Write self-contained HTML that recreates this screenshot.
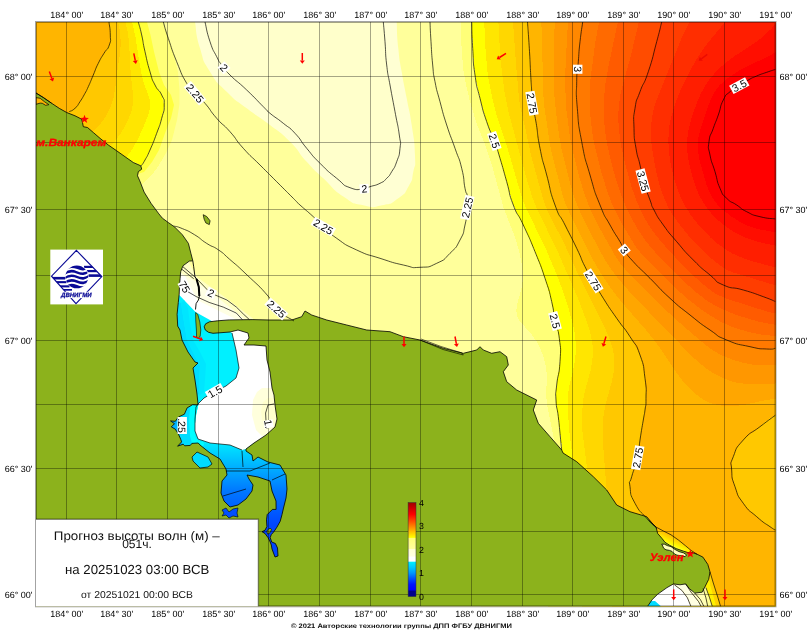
<!DOCTYPE html>
<html lang="ru"><head><meta charset="utf-8"><title>Прогноз высоты волн</title>
<style>html,body{margin:0;padding:0;background:#fff}body{width:810px;height:633px;position:relative;overflow:hidden;font-family:"Liberation Sans",sans-serif}</style></head>
<body>
<svg width="810" height="633" viewBox="0 0 810 633" style="position:absolute;left:0;top:0;will-change:transform">
<defs>
<clipPath id="fr"><rect x="36.0" y="22.0" width="739.5" height="584.3"/></clipPath>
<linearGradient id="lg" gradientUnits="userSpaceOnUse" x1="0" y1="440" x2="0" y2="525"><stop offset="0" stop-color="#00F0FF"/><stop offset="0.3" stop-color="#00B4FF"/><stop offset="0.6" stop-color="#0078FF"/><stop offset="1" stop-color="#0046FF"/></linearGradient>
<linearGradient id="uw" gradientUnits="userSpaceOnUse" x1="675" y1="536" x2="670.5" y2="545.5"><stop offset="0" stop-color="#FFB400"/><stop offset="0.35" stop-color="#FFD200"/><stop offset="0.8" stop-color="#FFFA00"/><stop offset="1" stop-color="#FFFF3C"/></linearGradient>
<linearGradient id="cb" x1="0" y1="1" x2="0" y2="0">
<stop offset="0.000" stop-color="#00008C"/>
<stop offset="0.060" stop-color="#00008C"/>
<stop offset="0.070" stop-color="#0000FF"/>
<stop offset="0.130" stop-color="#0014FF"/>
<stop offset="0.190" stop-color="#0050FF"/>
<stop offset="0.250" stop-color="#0096FF"/>
<stop offset="0.310" stop-color="#00C8FF"/>
<stop offset="0.370" stop-color="#00F0FF"/>
<stop offset="0.375" stop-color="#FFFFFF"/>
<stop offset="0.422" stop-color="#FFFFFF"/>
<stop offset="0.430" stop-color="#FFFFE1"/>
<stop offset="0.505" stop-color="#FFFFD2"/>
<stop offset="0.512" stop-color="#FFFF9B"/>
<stop offset="0.620" stop-color="#FFFF78"/>
<stop offset="0.630" stop-color="#FFFF00"/>
<stop offset="0.750" stop-color="#FF8000"/>
<stop offset="0.875" stop-color="#FF0000"/>
<stop offset="1.000" stop-color="#A00000"/>
</linearGradient>
</defs>
<rect width="810" height="633" fill="#FFFFFF"/>
<style>text{text-rendering:geometricPrecision}</style>
<g clip-path="url(#fr)">
<g shape-rendering="crispEdges">
<rect x="30" y="16" width="752" height="596" fill="#FFFF99"/>
<path fill="#FFFF9B" fill-rule="evenodd" d="M36.0,19.0L780.0,19.0L780.0,610.0L33.0,610.0L33.0,19.0Z"/>
<path fill="#FFFF78" fill-rule="evenodd" d="M36.0,19.0L143.8,19.0L151.3,49.0L157.6,70.0L161.3,79.0L169.8,94.0L173.3,103.0L174.6,109.0L175.3,118.0L174.7,127.0L173.5,133.0L171.7,139.0L168.2,148.0L163.7,157.0L158.3,166.0L154.0,172.0L148.9,178.0L141.0,185.8L126.0,198.6L102.0,218.0L57.4,253.0L33.0,273.4L33.0,19.0ZM462.0,19.0L780.0,19.0L780.0,610.0L479.4,610.0L484.5,601.0L490.4,592.0L513.0,561.8L519.0,551.9L522.0,545.8L525.0,538.9L531.0,522.8L546.0,479.5L549.0,469.1L552.0,456.5L553.5,448.0L554.1,442.0L553.9,439.0L546.8,403.0L546.2,394.0L546.8,379.0L546.6,373.0L545.9,367.0L543.9,358.0L540.6,349.0L537.0,342.0L531.0,333.6L520.4,322.0L518.4,319.0L517.2,316.0L516.6,313.0L516.4,310.0L517.1,304.0L521.4,289.0L522.8,280.0L522.8,274.0L522.4,268.0L519.5,253.0L516.1,241.0L513.0,232.0L503.6,208.0L491.3,163.0L486.3,148.0L478.0,127.0L474.9,118.0L469.6,100.0L466.0,85.0L463.4,70.0L461.6,49.0L460.6,19.0Z"/>
<path fill="#FFFF00" fill-rule="evenodd" d="M36.0,19.0L137.6,19.0L142.1,37.0L145.1,52.0L150.4,73.0L152.3,79.0L155.0,85.0L161.1,94.0L162.5,97.0L164.0,103.0L164.2,106.0L164.0,109.0L162.7,115.0L159.0,127.0L153.4,142.0L149.5,151.0L145.0,160.0L141.1,166.0L138.5,169.0L132.0,175.0L126.0,179.8L108.0,192.8L84.0,208.7L33.0,241.3L33.0,19.0ZM474.0,19.0L780.0,19.0L780.0,610.0L547.1,610.0L553.9,589.0L557.2,577.0L559.1,568.0L560.0,559.0L557.9,529.0L557.6,517.0L558.3,502.0L561.3,466.0L561.8,445.0L556.3,403.0L556.0,397.0L556.7,385.0L560.0,361.0L559.6,343.0L559.1,337.0L554.6,319.0L551.5,301.0L545.5,280.0L534.3,250.0L523.7,226.0L513.3,205.0L498.7,154.0L494.7,142.0L486.5,121.0L480.5,100.0L475.2,76.0L473.0,52.0L471.8,19.0Z"/>
<path fill="#FFE600" fill-rule="evenodd" d="M36.0,19.0L131.4,19.0L135.5,37.0L138.7,58.0L141.9,76.0L144.4,85.0L149.1,97.0L150.3,103.0L149.8,109.0L148.1,115.0L144.0,125.5L139.3,136.0L135.0,144.5L131.1,151.0L126.6,157.0L123.0,160.8L117.0,166.0L111.0,170.5L93.0,182.0L69.0,195.4L33.0,213.9L33.0,19.0ZM486.0,19.0L780.0,19.0L780.0,610.0L581.9,610.0L584.1,583.0L584.2,574.0L583.9,565.0L582.6,553.0L577.3,523.0L575.3,508.0L572.8,463.0L571.1,445.0L569.1,430.0L567.6,403.0L567.8,397.0L568.9,388.0L573.8,367.0L575.3,358.0L576.0,346.0L574.9,334.0L573.0,324.7L567.3,304.0L563.3,292.0L557.7,277.0L546.3,250.0L526.1,208.0L522.3,199.0L506.6,145.0L496.6,115.0L491.4,94.0L488.5,79.0L487.3,70.0L485.5,49.0L484.5,28.0L484.4,19.0Z"/>
<path fill="#FFD700" fill-rule="evenodd" d="M36.0,19.0L124.8,19.0L127.5,31.0L128.9,40.0L130.7,73.0L132.9,94.0L133.2,100.0L132.6,106.0L131.2,112.0L128.9,118.0L126.0,124.3L120.9,133.0L117.0,138.6L111.5,145.0L108.0,148.4L102.0,153.4L96.0,157.7L81.0,166.4L60.0,176.5L33.0,187.7L33.0,19.0ZM501.0,19.0L780.0,19.0L780.0,610.0L612.8,610.0L610.1,583.0L607.1,565.0L603.5,550.0L595.0,520.0L591.2,502.0L582.2,430.0L581.9,415.0L583.2,400.0L585.0,391.0L590.7,370.0L592.3,361.0L592.9,352.0L592.6,346.0L591.8,340.0L590.5,334.0L588.0,325.0L579.1,301.0L558.4,253.0L536.6,208.0L531.9,196.0L526.4,178.0L508.5,112.0L504.4,91.0L501.0,64.0L498.7,31.0L498.4,19.0Z"/>
<path fill="#FFC800" fill-rule="evenodd" d="M36.0,19.0L117.5,19.0L120.0,31.0L120.8,43.0L120.0,53.4L117.9,67.0L115.3,88.0L113.7,97.0L112.0,103.0L109.6,109.0L106.6,115.0L102.0,121.9L97.7,127.0L91.3,133.0L84.0,138.4L78.0,142.0L69.0,146.6L58.7,151.0L48.0,155.0L33.0,159.9L33.0,19.0ZM513.0,19.0L780.0,19.0L780.0,610.0L648.9,610.0L640.1,580.0L633.9,562.0L629.0,550.0L616.6,523.0L612.0,511.4L608.5,499.0L606.4,487.0L602.9,442.0L602.5,433.0L602.7,424.0L603.6,415.0L605.2,406.0L611.7,382.0L613.5,373.0L614.1,367.0L614.3,361.0L613.8,355.0L612.7,349.0L610.0,340.0L605.0,328.0L578.1,274.0L565.8,247.0L547.7,211.0L545.2,205.0L541.4,193.0L530.7,154.0L525.0,127.0L520.1,106.0L518.9,97.0L516.5,70.0L513.6,31.0Z"/>
<path fill="#FFB500" fill-rule="evenodd" d="M36.0,19.0L107.7,19.0L109.6,25.0L110.2,31.0L110.2,37.0L109.7,43.0L108.0,47.7L102.9,55.0L99.5,61.0L87.0,89.4L82.9,97.0L77.0,106.0L75.0,108.2L72.0,110.2L57.0,117.8L45.0,122.1L33.0,125.3L33.0,19.0ZM528.0,19.0L780.0,19.0L780.0,414.5L777.0,414.8L774.0,415.7L769.8,418.0L766.0,421.0L759.0,427.6L744.4,439.0L741.4,442.0L737.1,448.0L734.2,454.0L732.5,460.0L731.7,469.0L732.6,478.0L735.1,487.0L738.9,496.0L744.0,504.2L750.2,511.0L762.0,521.1L768.0,525.4L780.0,532.6L780.0,610.0L701.8,610.0L679.1,565.0L665.6,541.0L657.3,529.0L645.0,516.5L639.0,509.3L636.0,505.0L633.0,499.0L630.4,490.0L630.0,487.0L630.2,484.0L633.0,472.1L637.8,457.0L640.2,439.0L644.7,412.0L645.8,403.0L646.0,397.0L645.1,379.0L641.6,361.0L640.0,355.0L639.0,353.0L630.2,337.0L618.0,320.2L603.1,298.0L585.7,268.0L576.1,247.0L555.0,205.0L546.7,175.0L540.6,151.0L538.9,142.0L536.3,124.0L532.4,106.0L531.8,100.0L531.5,88.0L527.5,22.0L527.4,19.0Z"/>
<path fill="#FFA600" fill-rule="evenodd" d="M543.0,19.0L780.0,19.0L780.0,398.1L765.9,400.0L744.0,404.9L735.0,406.0L729.0,406.1L720.0,405.4L714.0,404.1L708.0,402.0L705.0,400.5L699.0,396.7L690.0,389.0L681.0,378.8L675.0,370.6L660.6,349.0L654.1,340.0L644.3,328.0L627.0,308.4L618.0,297.6L609.0,285.5L599.4,271.0L592.5,259.0L573.0,220.0L566.0,205.0L563.8,199.0L561.2,190.0L551.3,151.0L549.2,139.0L544.7,109.0L543.6,100.0L541.3,19.0Z"/>
<path fill="#FF9700" fill-rule="evenodd" d="M555.0,19.0L780.0,19.0L780.0,383.2L771.0,383.8L753.0,383.9L744.0,383.7L738.0,382.9L732.0,381.5L723.0,378.2L714.0,373.5L708.0,369.7L699.0,362.7L690.0,354.3L636.0,298.6L627.0,288.9L618.0,278.4L612.0,270.5L606.3,262.0L600.0,250.9L588.0,228.0L582.0,215.9L577.2,205.0L573.8,196.0L570.2,184.0L561.9,151.0L559.7,139.0L556.7,118.0L554.5,97.0L554.0,67.0L554.4,31.0Z"/>
<path fill="#FF8800" fill-rule="evenodd" d="M570.0,19.0L780.0,19.0L780.0,365.3L759.0,365.3L753.0,364.7L744.0,363.0L735.0,360.5L726.0,357.2L720.0,354.4L714.0,350.9L708.0,346.8L699.0,339.5L681.0,323.9L660.0,304.9L627.0,271.4L621.0,264.3L615.3,256.0L598.5,226.0L592.5,214.0L588.5,205.0L584.2,193.0L579.5,178.0L571.4,145.0L569.4,133.0L566.3,109.0L565.1,85.0L565.4,70.0L567.2,34.0L568.5,19.0Z"/>
<path fill="#FF7900" fill-rule="evenodd" d="M585.0,19.0L780.0,19.0L780.0,348.7L774.0,348.4L765.0,349.0L759.0,348.5L753.0,347.4L729.0,340.8L723.0,338.3L717.0,334.8L708.0,328.6L690.0,315.0L669.7,298.0L633.6,262.0L628.5,256.0L624.3,250.0L619.6,241.0L610.6,226.0L600.0,205.0L590.0,175.0L581.8,142.0L577.4,109.0L576.7,82.0L579.6,46.0L580.9,34.0L583.2,19.0Z"/>
<path fill="#FF6A00" fill-rule="evenodd" d="M600.0,19.0L780.0,19.0L780.0,336.4L765.0,335.1L759.0,334.2L747.0,331.5L735.0,327.9L729.0,325.7L720.0,321.3L711.0,316.0L702.0,310.0L690.0,300.8L676.3,289.0L643.5,256.0L638.3,250.0L634.0,244.0L621.5,223.0L616.8,214.0L611.2,202.0L607.9,193.0L601.2,172.0L593.9,142.0L592.4,133.0L590.6,118.0L589.9,109.0L589.6,100.0L590.5,79.0L595.2,43.0L597.9,28.0Z"/>
<path fill="#FF5B00" fill-rule="evenodd" d="M618.0,21.4L618.6,19.0L780.0,19.0L780.0,325.3L768.0,323.6L759.0,321.7L747.0,318.3L735.0,314.4L720.0,308.2L711.0,303.2L705.0,299.2L695.7,292.0L682.2,280.0L670.1,268.0L655.9,253.0L648.1,244.0L643.6,238.0L637.7,229.0L632.5,220.0L627.9,211.0L622.7,199.0L618.4,187.0L614.7,175.0L610.7,160.0L607.3,145.0L605.3,133.0L604.1,121.0L603.6,103.0L605.2,85.0L609.0,63.6Z"/>
<path fill="#FF4C00" fill-rule="evenodd" d="M639.0,21.4L639.6,19.0L780.0,19.0L780.0,314.3L768.0,311.9L726.0,298.5L717.0,294.5L711.0,290.7L701.5,283.0L688.3,271.0L668.4,250.0L658.1,238.0L651.3,229.0L645.6,220.0L642.0,213.3L637.0,202.0L631.5,187.0L624.2,160.0L621.5,148.0L620.0,139.0L618.7,127.0L618.3,118.0L618.7,106.0L620.5,94.0L622.7,85.0L630.3,58.0Z"/>
<path fill="#FF3D00" fill-rule="evenodd" d="M663.0,19.0L780.0,19.0L780.0,302.4L774.0,301.2L762.0,296.2L744.0,290.2L726.0,285.9L723.0,284.8L717.0,281.0L693.0,259.7L676.1,241.0L664.1,226.0L660.0,220.3L654.5,211.0L651.9,205.0L643.4,181.0L636.0,148.2L634.1,130.0L634.7,112.0L635.4,106.0L637.0,100.0L640.3,91.0L648.8,70.0L656.3,43.0L660.9,25.0L662.7,19.0Z"/>
<path fill="#FF2E00" fill-rule="evenodd" d="M690.0,20.4L690.7,19.0L780.0,19.0L780.0,286.8L732.0,272.1L729.0,270.9L723.0,267.6L714.0,260.8L705.0,253.0L696.0,244.0L687.0,233.9L678.4,223.0L672.1,214.0L668.6,208.0L664.5,199.0L661.2,190.0L658.4,181.0L656.2,172.0L651.9,148.0L651.1,139.0L650.9,130.0L651.6,121.0L652.4,115.0L654.6,106.0L657.7,97.0L681.0,39.5Z"/>
<path fill="#FF1E00" fill-rule="evenodd" d="M726.0,21.1L727.9,19.0L780.0,19.0L780.0,268.3L768.0,265.5L755.1,262.0L745.5,259.0L738.0,256.1L732.0,253.3L726.0,249.7L718.1,244.0L711.0,238.0L702.1,229.0L696.0,221.9L690.1,214.0L684.5,205.0L681.0,198.1L677.7,190.0L674.7,181.0L671.7,169.0L670.0,160.0L668.9,151.0L668.4,142.0L668.6,133.0L669.2,127.0L670.9,118.0L675.4,103.0L678.9,94.0L684.3,82.0L690.0,70.7L696.0,60.2L702.0,50.9L708.0,42.7Z"/>
<path fill="#FF0E00" fill-rule="evenodd" d="M780.0,19.0L780.0,246.4L768.0,244.2L756.0,241.3L747.0,238.3L741.0,235.7L734.0,232.0L726.0,226.7L717.8,220.0L711.8,214.0L706.9,208.0L702.9,202.0L699.6,196.0L695.7,187.0L691.9,175.0L689.0,163.0L687.6,154.0L687.0,145.0L687.3,139.0L688.5,130.0L690.7,121.0L693.5,112.0L696.8,103.0L700.7,94.0L705.0,86.0L709.7,79.0L717.0,70.5L726.0,62.4L735.0,55.8L754.7,43.0L762.6,37.0L771.0,29.1Z"/>
<path fill="#FF0000" fill-rule="evenodd" d="M780.0,48.1L780.0,233.1L759.0,229.3L753.0,227.6L747.0,225.4L741.0,222.5L732.0,216.9L723.0,210.1L717.7,205.0L714.0,200.2L711.4,196.0L708.5,190.0L706.3,184.0L699.4,160.0L698.0,151.0L697.7,145.0L698.1,139.0L700.1,130.0L708.2,106.0L710.5,100.0L713.4,94.0L717.0,88.5L719.9,85.0L726.0,79.4L738.0,71.2L747.0,66.3L768.0,56.7L774.0,53.0Z"/>
</g>
<path fill="#FFFF78" d="M138.3,22.0L163.3,22.0L168.3,38.3L174.0,55.0L178.0,72.0L179.5,90.0L179.5,104.0L177.0,120.0L172.0,140.0L166.0,153.0L158.0,166.0L148.0,178.0L140.0,182.0L130.0,182.0L130.0,160.0L141.3,165.8L145.0,160.0L150.0,150.0L156.7,133.3L161.7,118.3L164.2,105.0L161.7,95.0L155.0,85.0L150.0,71.7L145.0,51.7L141.7,35.0Z"/>
<path fill="#FFFF3C" d="M138.3,22.0L147.0,22.0L150.5,35.0L154.0,51.7L159.0,71.7L164.0,85.0L171.0,95.0L174.0,105.0L171.0,118.3L165.0,133.3L159.0,150.0L152.0,162.0L144.0,172.0L130.0,176.0L130.0,160.0L141.3,165.8L145.0,160.0L150.0,150.0L156.7,133.3L161.7,118.3L164.2,105.0L161.7,95.0L155.0,85.0L150.0,71.7L145.0,51.7L141.7,35.0Z"/>
<path fill="#FFFFD3" d="M195.0,22.0C196.7,30.8 195.0,31.7 200.0,48.3C205.0,64.9 201.1,57.2 210.0,71.7C218.9,86.2 214.5,79.5 226.7,91.7C238.9,103.9 232.3,97.2 246.7,108.3C261.1,119.4 255.6,113.9 270.0,125.0C284.4,136.1 277.8,129.5 290.0,141.7C302.2,153.9 295.6,149.5 306.7,161.7C317.8,173.9 311.1,166.7 323.3,178.3C335.5,189.9 330.0,187.5 343.3,196.5C356.6,205.5 350.4,202.4 363.3,205.3C376.2,208.2 370.4,207.6 382.0,205.3C393.6,203.0 389.1,204.9 398.0,198.5C406.9,192.1 403.7,194.9 408.8,186.0C413.9,177.1 411.2,182.0 413.3,171.7C415.4,161.4 415.5,170.6 415.0,155.0C414.5,139.4 414.5,143.9 411.7,125.0C408.9,106.1 410.0,116.1 406.7,98.3C403.4,80.5 404.5,88.4 401.7,71.7C398.9,55.0 400.0,64.9 398.3,48.3C396.6,31.7 397.2,30.8 396.7,22.0L396.7,15L195,15Z"/>
<path fill="#FFFFCB" d="M205.0,22.0C206.7,28.6 206.1,30.1 210.0,41.7C213.9,53.3 212.8,48.9 216.7,56.7C220.6,64.5 217.3,58.9 221.7,65.0C226.1,71.1 221.7,66.7 230.0,75.0C238.3,83.3 235.6,79.4 246.7,90.0C257.8,100.6 255.5,98.9 263.3,106.7C271.1,114.5 263.3,107.8 270.0,113.3C276.7,118.8 275.0,116.6 283.3,123.3C291.6,130.0 287.2,125.0 295.0,133.3C302.8,141.6 298.4,138.3 306.7,148.3C315.0,158.3 310.0,153.3 320.0,163.3C330.0,173.3 326.7,170.2 336.7,178.3C346.7,186.4 340.8,184.2 350.0,187.7C359.2,191.2 357.6,189.0 364.3,188.7C371.0,188.4 364.8,188.5 370.0,186.7C375.2,184.9 374.4,186.1 380.0,183.3C385.6,180.5 382.8,182.2 386.7,178.3C390.6,174.4 388.4,177.2 391.7,171.7C395.0,166.2 393.9,169.5 396.7,161.7C399.5,153.9 399.1,157.2 400.0,148.3C400.9,139.4 401.0,147.2 399.3,135.0C397.6,122.8 398.1,128.4 395.0,111.7C391.9,95.0 392.8,100.6 390.0,85.0C387.2,69.4 388.4,79.4 386.7,65.0C385.0,50.6 386.1,56.0 385.0,41.7C383.9,27.4 383.9,28.6 383.3,22.0L383.3,15L205,15Z"/>
<g>
<path fill="#FFFFC4" d="M186.0,257.0L197.0,277.0L226.0,298.0L255.0,320.0L255.0,332.0L170.0,332.0L170.0,257.0Z"/>
<path fill="#FFFFE4" d="M170.0,270.0L181.0,273.0L197.0,282.0L222.0,301.0L246.0,320.0L246.0,332.0L170.0,332.0Z"/>
<path fill="#FFFFFF" d="M170.0,276.0L185.0,276.3L197.3,300.0L215.0,309.0L236.4,319.6L300.0,321.0L300.0,430.0L254.0,443.0L246.0,449.0L242.0,450.0L230.0,445.0L215.0,444.2L204.5,442.7L198.2,440.3L195.4,437.1L194.6,431.6L195.0,423.7L196.2,414.2L198.2,404.7L170.0,404.0Z"/>
<path fill="url(#lg)" d="M165.0,404.0L198.0,404.0L196.0,407.0L195.0,419.0L195.0,431.0L198.0,439.0L210.0,443.0L230.0,445.0L242.0,450.0L246.0,449.0L254.0,443.0L300.0,430.0L300.0,570.0L165.0,570.0Z"/>
<path fill="#00F0FF" d="M170.0,294.0L179.5,295.3L195.5,311.9L209.0,319.5L232.0,333.0L236.0,350.0L239.0,368.0L236.0,378.0L226.0,386.0L215.0,391.6L204.0,398.0L198.0,404.0L170.0,406.0Z"/>
<path fill="#00DCFF" d="M170.0,300.0L181.0,303.0L184.0,322.0L187.0,340.0L194.0,354.0L200.0,366.0L199.0,380.0L200.0,394.0L170.0,400.0Z"/>
<path fill="#00E6FF" d="M184.0,300.0L188.0,308.0L190.0,324.0L193.0,340.0L200.0,352.0L206.0,364.0L205.0,380.0L204.0,392.0L199.0,396.0L199.0,380.0L200.0,366.0L194.0,354.0L187.0,340.0L184.0,322.0L181.0,303.0Z"/>
<path fill="#00DCFF" d="M165.0,400.0L198.5,404.0L196.2,414.2L195.0,423.7L194.6,431.6L195.4,437.1L198.2,440.3L204.5,442.7L204.0,448.0L165.0,450.0Z"/>
<path fill="#00FFFF" d="M192.0,400.0L198.5,404.0L196.2,414.2L195.0,423.7L194.6,431.6L195.4,437.1L198.2,440.3L204.5,442.7L203.0,447.0L193.0,447.0L190.0,436.0L189.0,420.0L190.0,408.0Z"/>
<path fill="#00B4FF" d="M165.0,415.0L178.5,417.0L177.0,424.0L178.4,434.0L181.0,440.0L184.0,447.0L165.0,450.0Z"/>
<path fill="#00DCFF" d="M192.0,457.0L197.0,452.0L208.0,457.0L212.0,464.0L208.0,467.0L200.0,468.0L193.0,461.0Z"/>
<path fill="#FFFFDC" d="M257.0,392.0L262.0,388.0L280.0,388.0L280.0,432.0L262.0,436.0L256.0,430.0L252.0,415.0L253.0,400.0Z"/>
<path fill="#FFFFCD" d="M263.0,402.0L268.0,398.0L280.0,398.0L280.0,428.0L268.0,430.0L263.0,424.0L261.0,412.0Z"/>
</g>
<path fill="#FFD200" d="M710.0,571.9L713.3,583.0L718.0,597.8L720.7,606.8L716.5,606.8L714.0,597.8L710.5,585.5L708.7,575.0Z"/>
<path fill="#FFF000" d="M708.7,575.0L710.5,585.5L714.0,597.8L716.5,606.8L712.4,606.8L709.6,597.8L705.9,587.6L706.0,580.0Z"/>
<path fill="#FFFF96" d="M705.9,587.6L709.6,597.8L712.4,606.8L707.8,606.8L705.9,597.8L703.1,588.5L702.0,584.0Z"/>
<path fill="#FFFFB4" d="M703.1,588.5L705.9,597.8L707.8,606.8L704.1,606.8L700.4,599.6L694.8,593.1L690.0,585.0L700.0,584.0Z"/>
<path fill="#FFFFC8" d="M694.8,593.1L700.4,599.6L704.1,606.8L701.3,606.8L698.5,601.5L691.1,592.2L685.6,583.9L684.0,578.0L696.0,586.0Z"/>
<path fill="#FFFFE1" d="M685.6,583.9L691.1,592.2L698.5,601.5L701.3,606.8L691.1,606.8L687.4,597.8L681.9,590.4L674.4,584.8L672.0,580.0L686.0,578.0Z"/>
<path fill="#FFFFFF" d="M640.0,575.0L674.4,584.8L681.9,590.4L687.4,597.8L691.1,606.8L640.0,606.8Z"/>
<path fill="#00DCFF" d="M640.0,599.0L648.5,601.3L655.0,601.0L661.5,606.8L640.0,606.8Z"/>
<path fill="url(#uw)" d="M650.0,521.0L656.1,527.1L663.6,531.1L671.0,534.8L678.4,540.0L685.8,546.0L691.0,550.4L694.0,553.5L688.0,554.0L676.0,550.0L665.0,544.0L656.0,534.0Z"/>
<path fill="#8CB21C" d="M36.0,93.0L43.3,97.5L51.7,103.3L59.2,108.3L66.7,112.5L75.0,115.8L81.7,119.2L82.5,122.5L83.3,126.7L87.5,127.5L93.3,132.5L100.0,138.3L108.3,145.0L116.7,150.8L125.0,156.7L133.3,162.5L140.8,165.8L141.7,169.2L138.3,171.7L137.5,175.8L139.8,180.9L144.1,192.1L151.1,203.4L158.9,213.9L162.4,218.2L168.4,222.6L174.5,226.9L182.3,234.7L188.4,243.4L191.0,253.8L192.8,260.8L189.3,261.1L185.0,264.3L183.0,265.7L180.7,271.6L180.1,278.7L179.5,285.8L179.2,294.1L178.3,302.4L177.1,314.2L177.7,326.1L180.0,330.0L182.0,340.0L188.0,352.0L195.0,362.0L198.0,363.0L193.0,368.0L195.0,380.0L197.0,394.0L198.0,404.0L197.5,405.0L192.6,404.7L187.1,407.9L184.4,414.2L178.4,417.0L175.3,421.3L170.5,420.9L174.5,423.7L171.3,426.9L175.3,429.2L178.4,434.0L180.8,439.5L181.6,441.9L177.6,446.2L183.2,444.2L184.7,445.8L190.3,445.4L191.9,443.4L198.2,443.0L200.0,445.0L210.0,453.0L220.0,459.0L226.0,469.0L227.0,475.0L222.0,481.0L221.0,493.0L224.0,501.0L230.0,507.0L238.0,505.0L246.0,499.0L252.0,491.0L253.0,485.0L249.0,479.0L247.0,475.0L258.0,477.0L270.0,481.0L272.0,491.0L276.0,501.0L276.1,509.4L272.4,509.4L267.2,514.6L266.5,519.8L266.9,526.5L265.0,530.2L262.0,531.7L265.0,533.5L268.0,537.6L270.2,542.0L271.3,545.0L272.0,549.0L275.0,557.0L278.0,556.0L277.5,548.0L276.1,545.0L275.4,543.5L271.7,542.0L270.2,537.6L271.3,534.6L273.9,531.7L276.9,527.2L280.2,521.3L282.0,514.6L283.5,508.0L286.0,498.0L287.0,489.0L286.0,475.0L280.0,465.0L268.0,462.0L258.0,457.0L253.0,461.0L252.0,455.0L246.0,451.0L246.0,449.0L254.0,443.0L266.0,435.0L275.0,427.0L277.0,419.0L275.0,405.0L274.0,395.0L272.0,388.0L270.0,372.0L267.0,360.0L266.0,346.0L254.0,345.0L244.0,345.0L249.0,338.0L248.0,333.0L238.0,330.0L230.0,332.0L213.0,333.3L208.5,332.3L205.3,330.0L204.2,326.8L205.6,323.8L209.5,321.8L217.4,320.8L229.2,319.9L252.9,319.6L270.0,320.0L291.7,320.0L301.7,316.7L305.0,311.0L311.7,315.0L326.7,320.0L346.7,325.0L366.7,330.0L390.0,331.7L403.3,336.7L420.0,340.0L443.3,348.3L463.3,353.3L476.7,350.0L480.0,346.7L483.3,350.0L491.7,353.3L500.0,351.7L506.7,356.7L508.3,365.0L503.3,371.7L506.7,381.7L516.7,390.0L530.0,396.7L536.7,400.0L533.3,410.0L538.3,423.3L550.0,436.7L561.7,450.0L563.0,453.0L576.7,461.7L593.3,476.7L606.7,490.0L616.7,505.0L630.0,511.7L646.7,516.7L652.0,523.0L656.1,527.1L657.6,533.4L662.1,538.6L665.0,542.3L669.5,545.2L676.2,548.6L683.6,551.2L688.0,552.6L692.0,552.4L697.0,554.2L702.9,557.1L707.8,564.4L710.0,571.9L708.7,579.3L705.0,586.7L702.2,592.2L694.8,593.1L689.3,588.5L685.6,583.9L680.0,584.8L673.5,583.9L667.0,587.6L657.8,594.1L652.2,599.6L647.6,606.3L36.0,606.3Z"/>
<path fill="#FFB400" d="M36.0,97.6L40.2,98.3L44.3,101.6L48.9,104.7L45.6,105.3L42.3,103.3L40.2,103.1L36.0,104.3Z"/>
<path fill="#8CB21C" stroke="#000" stroke-width="0.7" d="M203.2,214.7L206.7,216.5L210.1,220.8L209.3,224.6L205.8,222.9L204.1,219.1Z"/>
<path fill="#8CB21C" stroke="#000" stroke-width="0.6" d="M195.6,312.5L197.8,314.5L199.8,322.0L200.8,330.0L200.2,336.0L198.4,338.5L196.6,337.0L196.4,330.0L195.8,321.0Z"/>
<path fill="#FFFFB9" stroke="#000" stroke-width="0.8" d="M661.7,544.1L664.5,544.2L667.3,545.6L671.0,546.6L674.7,549.3L679.0,551.6L683.6,552.9L686.6,554.9L685.1,556.7L680.6,555.6L677.0,555.2L674.7,554.1L672.0,551.4L669.5,550.4L666.0,549.8L663.6,548.2L662.8,546.2Z"/>
<path fill="#0050FF" stroke="#000" stroke-width="0.6" d="M222.0,510.0L226.0,508.0L229.0,512.0L233.0,509.0L238.0,508.0L237.0,513.0L238.0,517.0L233.0,516.0L229.0,518.0L226.0,515.0L222.0,516.0L224.0,513.0Z"/>
<path fill="#8CB21C" stroke="#000" stroke-width="0.6" d="M267.6,529.8L270.0,528.2L271.6,529.4L270.2,532.6L267.8,534.2L266.9,532.0Z"/>
<path fill="none" stroke="#000" stroke-width="0.8" stroke-linejoin="round" d="M36.0,93.0L43.3,97.5L51.7,103.3L59.2,108.3L66.7,112.5L75.0,115.8L81.7,119.2L82.5,122.5L83.3,126.7L87.5,127.5L93.3,132.5L100.0,138.3L108.3,145.0L116.7,150.8L125.0,156.7L133.3,162.5L140.8,165.8L141.7,169.2L138.3,171.7L137.5,175.8L139.8,180.9L144.1,192.1L151.1,203.4L158.9,213.9L162.4,218.2L168.4,222.6L174.5,226.9L182.3,234.7L188.4,243.4L191.0,253.8L192.8,260.8L189.3,261.1L185.0,264.3L183.0,265.7L180.7,271.6L180.1,278.7L179.5,285.8L179.2,294.1L178.3,302.4L177.1,314.2L177.7,326.1L180.0,330.0L182.0,340.0L188.0,352.0L195.0,362.0L198.0,363.0L193.0,368.0L195.0,380.0L197.0,394.0L198.0,404.0L197.5,405.0L192.6,404.7L187.1,407.9L184.4,414.2L178.4,417.0L175.3,421.3L170.5,420.9L174.5,423.7L171.3,426.9L175.3,429.2L178.4,434.0L180.8,439.5L181.6,441.9L177.6,446.2L183.2,444.2L184.7,445.8L190.3,445.4L191.9,443.4L198.2,443.0L200.0,445.0L210.0,453.0L220.0,459.0L226.0,469.0L227.0,475.0L222.0,481.0L221.0,493.0L224.0,501.0L230.0,507.0L238.0,505.0L246.0,499.0L252.0,491.0L253.0,485.0L249.0,479.0L247.0,475.0L258.0,477.0L270.0,481.0L272.0,491.0L276.0,501.0L276.1,509.4L272.4,509.4L267.2,514.6L266.5,519.8L266.9,526.5L265.0,530.2L262.0,531.7L265.0,533.5L268.0,537.6L270.2,542.0L271.3,545.0L272.0,549.0L275.0,557.0L278.0,556.0L277.5,548.0L276.1,545.0L275.4,543.5L271.7,542.0L270.2,537.6L271.3,534.6L273.9,531.7L276.9,527.2L280.2,521.3L282.0,514.6L283.5,508.0L286.0,498.0L287.0,489.0L286.0,475.0L280.0,465.0L268.0,462.0L258.0,457.0L253.0,461.0L252.0,455.0L246.0,451.0L246.0,449.0L254.0,443.0L266.0,435.0L275.0,427.0L277.0,419.0L275.0,405.0L274.0,395.0L272.0,388.0L270.0,372.0L267.0,360.0L266.0,346.0L254.0,345.0L244.0,345.0L249.0,338.0L248.0,333.0L238.0,330.0L230.0,332.0L213.0,333.3L208.5,332.3L205.3,330.0L204.2,326.8L205.6,323.8L209.5,321.8L217.4,320.8L229.2,319.9L252.9,319.6L270.0,320.0L291.7,320.0L301.7,316.7L305.0,311.0L311.7,315.0L326.7,320.0L346.7,325.0L366.7,330.0L390.0,331.7L403.3,336.7L420.0,340.0L443.3,348.3L463.3,353.3L476.7,350.0L480.0,346.7L483.3,350.0L491.7,353.3L500.0,351.7L506.7,356.7L508.3,365.0L503.3,371.7L506.7,381.7L516.7,390.0L530.0,396.7L536.7,400.0L533.3,410.0L538.3,423.3L550.0,436.7L561.7,450.0L563.0,453.0L576.7,461.7L593.3,476.7L606.7,490.0L616.7,505.0L630.0,511.7L646.7,516.7L652.0,523.0L656.1,527.1L657.6,533.4L662.1,538.6L665.0,542.3L669.5,545.2L676.2,548.6L683.6,551.2L688.0,552.6L692.0,552.4L697.0,554.2L702.9,557.1L707.8,564.4L710.0,571.9L708.7,579.3L705.0,586.7L702.2,592.2L694.8,593.1L689.3,588.5L685.6,583.9L680.0,584.8L673.5,583.9L667.0,587.6L657.8,594.1L652.2,599.6L647.6,606.3"/>
<path fill="#00DCFF" stroke="#000" stroke-width="0.7" d="M192.0,457.0L197.0,452.0L208.0,457.0L212.0,464.0L208.0,467.0L200.0,468.0L193.0,461.0Z"/>
<path fill="none" stroke="#000" stroke-width="0.9" d="M192.8,260.8L193.7,266.8L194.9,276.3L197.3,281.1L199.0,288.2L199.6,295.3L198.4,300.0L196.1,303.6L195.5,309.5"/>
<path fill="none" stroke="#000" stroke-width="2" d="M196.5,279.0L198.8,287.0L199.3,296.0"/>
<path fill="none" stroke="#000" stroke-width="0.7" d="M36.0,93.0L43.3,97.5L51.7,103.3"/>
<path fill="none" stroke="#000" stroke-width="0.7" d="M36.0,97.6L40.2,98.3L44.3,101.6L48.9,104.7L45.6,105.3L42.3,103.3L40.2,103.1L36.0,104.3Z"/>
<path fill="none" stroke="#000" stroke-width="0.6" d="M420.0,340.0L443.0,349.5L463.3,355.0L462.0,353.0L441.0,346.5L421.0,339.0"/>
<g fill="none" stroke="#000" stroke-opacity="0.9" stroke-width="0.75" stroke-linejoin="round">
<path d="M109.0,22.0C109.4,26.3 110.2,27.3 110.3,35.0C110.4,42.7 111.4,38.9 109.3,45.0C107.2,51.1 107.7,47.2 104.0,53.3C100.3,59.4 101.9,56.1 98.3,63.3C94.7,70.5 96.6,67.2 93.3,75.0C90.0,82.8 91.1,80.6 88.3,86.7C85.5,92.8 87.8,88.3 85.0,93.3C82.2,98.3 83.3,96.7 80.0,101.7C76.7,106.7 78.6,105.0 75.0,108.3C71.4,111.6 71.1,110.6 69.2,111.7"/>
<path d="M138.3,22.0C139.4,26.3 139.5,25.1 141.7,35.0C143.9,44.9 142.2,39.5 145.0,51.7C147.8,63.9 146.7,60.6 150.0,71.7C153.3,82.8 151.1,77.2 155.0,85.0C158.9,92.8 158.6,88.3 161.7,95.0C164.8,101.7 164.2,97.2 164.2,105.0C164.2,112.8 164.2,108.9 161.7,118.3C159.2,127.7 160.6,122.7 156.7,133.3C152.8,143.9 153.9,141.1 150.0,150.0C146.1,158.9 147.9,154.7 145.0,160.0C142.1,165.3 142.5,163.9 141.3,165.8"/>
<path d="M163.3,22.0C165.0,27.4 163.8,25.1 168.3,38.3C172.8,51.5 170.6,46.7 176.7,61.7C182.8,76.7 180.6,72.8 186.7,83.3C192.8,93.8 188.9,86.6 195.0,93.3C201.1,100.0 197.8,95.0 205.0,103.3C212.2,111.6 208.4,108.8 216.7,118.3C225.0,127.8 221.1,121.7 230.0,131.7C238.9,141.7 233.3,137.2 243.3,148.3C253.3,159.4 248.9,153.9 260.0,165.0C271.1,176.1 265.6,170.6 276.7,181.7C287.8,192.8 285.5,190.5 293.3,198.3C301.1,206.1 293.3,198.9 300.0,205.0C306.7,211.1 305.5,209.5 313.3,216.7C321.1,223.9 315.5,219.5 323.3,226.7C331.1,233.9 325.6,230.5 336.7,238.3C347.8,246.1 342.3,243.3 356.7,250.0C371.1,256.7 364.5,253.3 380.0,258.3C395.5,263.3 390.0,262.0 403.3,265.0C416.6,268.0 408.9,267.9 420.0,267.3C431.1,266.7 426.7,268.0 436.7,263.3C446.7,258.6 442.2,261.1 450.0,253.3C457.8,245.5 455.0,249.4 460.0,240.0C465.0,230.6 462.7,235.0 465.0,225.0C467.3,215.0 466.2,219.4 467.0,210.0C467.8,200.6 468.0,203.9 467.3,196.7C466.6,189.5 466.9,197.8 465.0,188.3C463.1,178.8 465.0,181.6 461.7,168.3C458.4,155.0 460.0,162.7 455.0,148.3C450.0,133.9 451.7,140.5 446.7,125.0C441.7,109.5 443.9,116.1 440.0,101.7C436.1,87.3 437.4,93.9 435.0,81.7C432.6,69.5 434.0,78.3 432.7,65.0C431.4,51.7 431.9,56.0 431.0,41.7C430.1,27.4 430.3,28.6 430.0,22.0"/>
<path d="M205.0,22.0C206.7,28.6 206.1,30.1 210.0,41.7C213.9,53.3 212.8,48.9 216.7,56.7C220.6,64.5 217.3,58.9 221.7,65.0C226.1,71.1 221.7,66.7 230.0,75.0C238.3,83.3 235.6,79.4 246.7,90.0C257.8,100.6 255.5,98.9 263.3,106.7C271.1,114.5 263.3,107.8 270.0,113.3C276.7,118.8 275.0,116.6 283.3,123.3C291.6,130.0 287.2,125.0 295.0,133.3C302.8,141.6 298.4,138.3 306.7,148.3C315.0,158.3 310.0,153.3 320.0,163.3C330.0,173.3 326.7,170.2 336.7,178.3C346.7,186.4 340.8,184.2 350.0,187.7C359.2,191.2 357.6,189.0 364.3,188.7C371.0,188.4 364.8,188.5 370.0,186.7C375.2,184.9 374.4,186.1 380.0,183.3C385.6,180.5 382.8,182.2 386.7,178.3C390.6,174.4 388.4,177.2 391.7,171.7C395.0,166.2 393.9,169.5 396.7,161.7C399.5,153.9 399.1,157.2 400.0,148.3C400.9,139.4 401.0,147.2 399.3,135.0C397.6,122.8 398.1,128.4 395.0,111.7C391.9,95.0 392.8,100.6 390.0,85.0C387.2,69.4 388.4,79.4 386.7,65.0C385.0,50.6 386.1,56.0 385.0,41.7C383.9,27.4 383.9,28.6 383.3,22.0"/>
<path d="M173.7,226.0C176.6,226.9 175.4,225.7 182.3,228.6C189.2,231.5 186.4,229.8 194.5,234.7C202.6,239.6 198.7,238.3 206.7,243.4C214.7,248.5 211.1,244.8 218.6,250.0C226.1,255.2 220.2,251.0 229.3,259.0C238.4,267.0 233.1,261.7 246.0,274.0C258.9,286.3 257.9,284.3 268.0,296.0C278.1,307.7 267.7,300.7 276.4,309.0C285.1,317.3 288.1,317.0 294.0,321.0"/>
<path d="M471.7,22.0C472.0,30.8 471.6,30.6 472.7,48.3C473.8,66.0 472.6,58.3 475.0,75.0C477.4,91.7 476.1,82.7 480.0,98.3C483.9,113.9 481.9,107.5 486.7,121.7C491.5,135.9 489.9,128.8 494.3,141.0C498.7,153.2 495.9,144.7 500.0,158.3C504.1,171.9 502.3,166.1 506.7,181.7C511.1,197.3 507.8,190.6 513.3,205.0C518.8,219.4 516.1,209.4 523.3,225.0C530.5,240.6 527.8,233.9 535.0,251.7C542.2,269.5 539.4,261.6 545.0,278.3C550.6,295.0 548.4,287.5 551.7,301.7C555.0,315.9 552.5,308.8 555.0,321.0C557.5,333.2 557.6,324.7 559.3,338.3C561.0,351.9 560.9,346.1 560.0,361.7C559.1,377.3 558.0,372.2 556.7,385.0C555.4,397.8 555.5,389.4 556.0,400.0C556.5,410.6 557.0,405.6 558.3,416.7C559.6,427.8 558.9,422.2 560.0,433.3C561.1,444.4 561.1,444.4 561.7,450.0"/>
<path d="M527.5,22.0C528.1,30.8 528.2,30.6 529.3,48.3C530.4,66.0 529.9,60.5 530.7,75.0C531.5,89.5 531.3,82.3 531.7,91.7C532.1,101.1 530.6,93.5 532.0,103.3C533.4,113.1 533.1,106.0 535.8,121.0C538.5,136.0 536.4,130.3 540.0,148.3C543.6,166.3 541.7,156.1 546.7,175.0C551.7,193.9 548.9,188.3 555.0,205.0C561.1,221.7 557.8,210.6 565.0,225.0C572.2,239.4 570.0,234.4 576.7,248.3C583.4,262.2 579.5,255.8 585.0,266.7C590.5,277.6 587.2,270.5 593.3,281.0C599.4,291.5 595.5,285.9 603.3,298.3C611.1,310.7 607.8,305.5 616.7,318.3C625.6,331.1 622.2,324.5 630.0,336.7C637.8,348.9 635.0,341.1 640.0,355.0C645.0,368.9 643.0,363.9 645.0,378.3C647.0,392.7 646.0,387.7 646.0,398.3C646.0,408.9 645.9,402.8 645.0,410.0C644.1,417.2 645.0,410.0 643.3,420.0C641.6,430.0 641.9,427.4 640.0,440.0C638.1,452.6 640.5,445.5 637.7,457.7C634.9,469.9 634.3,467.0 631.7,476.7C629.1,486.4 628.9,477.8 630.0,486.7C631.1,495.6 629.4,492.8 635.0,503.3C640.6,513.8 639.5,510.0 646.7,518.3C653.9,526.6 653.4,525.0 656.7,528.3"/>
<path d="M582.7,22.0C581.8,28.6 581.5,28.5 580.0,41.7C578.5,54.9 579.1,52.5 578.3,61.7C577.5,70.9 578.2,62.6 577.7,69.3C577.2,76.0 576.8,68.7 576.7,81.7C576.6,94.7 575.6,88.3 577.3,108.3C579.0,128.3 577.5,119.5 581.7,141.7C585.9,163.9 583.9,153.9 590.0,175.0C596.1,196.1 593.3,188.3 600.0,205.0C606.7,221.7 603.3,212.8 610.0,225.0C616.7,237.2 615.2,233.4 620.0,241.7C624.8,250.0 619.9,243.3 624.3,250.0C628.7,256.7 624.7,252.3 633.3,261.7C641.9,271.1 637.8,266.1 650.0,278.3C662.2,290.5 656.7,286.1 670.0,298.3C683.3,310.5 676.7,304.4 690.0,315.0C703.3,325.6 697.8,321.7 710.0,330.0C722.2,338.3 713.4,334.4 726.7,340.0C740.0,345.6 736.7,343.7 750.0,346.7C763.3,349.7 758.1,348.5 766.7,349.0C775.3,349.5 772.7,348.5 775.7,348.3"/>
<path d="M661.7,22.0C660.0,28.6 661.2,25.1 656.7,41.7C652.2,58.3 653.9,55.0 648.3,71.7C642.7,88.4 644.4,79.5 640.0,91.7C635.6,103.9 637.0,96.1 635.0,108.3C633.0,120.5 633.7,115.0 634.0,128.3C634.3,141.6 634.0,136.1 636.0,148.3C638.0,160.5 637.6,154.2 640.0,165.0C642.4,175.8 640.0,169.0 643.3,180.7C646.6,192.4 646.4,190.2 650.0,200.0C653.6,209.8 649.6,201.7 654.0,210.0C658.4,218.3 655.7,214.4 663.3,225.0C670.9,235.6 666.7,230.0 676.7,241.7C686.7,253.4 682.2,248.9 693.3,260.0C704.4,271.1 700.0,266.7 710.0,275.0C720.0,283.3 712.2,280.0 723.3,285.0C734.4,290.0 730.0,286.1 743.3,290.0C756.6,293.9 752.5,292.8 763.3,296.7C774.1,300.6 771.6,300.0 775.7,301.7"/>
<path d="M775.7,69.3C772.7,70.3 773.0,70.1 766.7,72.3C760.4,74.5 762.8,73.4 756.7,76.0C750.6,78.6 754.1,76.8 748.3,80.0C742.5,83.2 745.4,81.8 739.3,85.7C733.2,89.6 735.3,86.9 730.0,91.7C724.7,96.5 727.2,92.2 723.3,100.0C719.4,107.8 721.6,105.6 718.3,115.0C715.0,124.4 716.4,119.4 713.3,128.3C710.2,137.2 710.1,132.8 709.0,141.7C707.9,150.6 708.0,145.0 710.0,155.0C712.0,165.0 711.7,160.6 715.0,171.7C718.3,182.8 716.1,179.4 720.0,188.3C723.9,197.2 721.1,192.7 726.7,198.3C732.3,203.9 730.0,200.5 736.7,205.0C743.4,209.5 738.9,207.8 746.7,211.7C754.5,215.6 750.3,214.3 760.0,216.7C769.7,219.1 770.5,218.2 775.7,219.0"/>
<path d="M775.7,415.0C770.5,418.9 770.8,418.4 760.0,426.7C749.2,435.0 752.2,430.0 743.3,440.0C734.4,450.0 737.2,446.7 733.3,456.7C729.4,466.7 731.1,460.0 731.7,470.0C732.3,480.0 731.1,475.6 735.0,486.7C738.9,497.8 736.1,493.3 743.3,503.3C750.5,513.3 747.8,508.9 756.7,516.7C765.6,524.5 763.7,522.3 770.0,526.7C776.3,531.1 773.8,528.9 775.7,530.0"/>
<path d="M232.0,333.0L236.0,350.0L239.0,368.0L236.0,378.0L226.0,386.0L215.0,391.6L204.0,398.0L198.0,404.0L196.0,407.0L195.0,419.0L195.0,431.0L198.0,439.0L210.0,443.0L230.0,445.0L242.0,450.0"/>
<path d="M242.0,451.0L243.0,467.0"/>
<path d="M226.0,471.0L250.0,471.0L270.0,463.0"/>
<path d="M223.0,496.0L246.0,489.0"/>
<path d="M272.0,480.0L285.0,474.0"/>
<path d="M274.0,404.0L268.0,405.0L265.6,413.0L266.0,421.0L267.0,429.0"/>
<path d="M195.5,277.5L210.3,292.9L226.9,300.0L236.4,307.1L243.5,314.2L249.4,319.6"/>
<path d="M183.0,266.8L195.5,277.5"/>
<path d="M181.8,269.2L193.7,278.7"/>
<path d="M180.0,283.0L187.8,291.7L196.1,296.5L209.1,302.4L223.3,307.1L236.4,313.1L242.3,319.6"/>
<path d="M648.7,520.0L656.1,527.1L663.6,531.1L671.0,534.8L678.4,540.0L685.8,546.0L691.0,550.4L697.0,554.2"/>
<path d="M705.9,587.6L709.6,597.8L712.4,606.8"/>
<path d="M703.1,588.5L705.9,597.8L707.8,606.8"/>
<path d="M694.8,593.1L700.4,599.6L704.1,606.8"/>
<path d="M685.6,583.9L691.1,592.2L698.5,601.5L701.3,606.8"/>
<path d="M674.4,584.8L681.9,590.4L687.4,597.8L691.1,606.8"/>
<path d="M710.0,571.9L713.3,583.0L718.0,597.8L720.7,606.8"/>
</g>
<g stroke="#000" stroke-opacity="0.35" stroke-width="1" shape-rendering="crispEdges">
<line x1="66.5" y1="22.0" x2="66.5" y2="606.3"/>
<line x1="116.5" y1="22.0" x2="116.5" y2="606.3"/>
<line x1="167.5" y1="22.0" x2="167.5" y2="606.3"/>
<line x1="218.5" y1="22.0" x2="218.5" y2="606.3"/>
<line x1="268.5" y1="22.0" x2="268.5" y2="606.3"/>
<line x1="319.5" y1="22.0" x2="319.5" y2="606.3"/>
<line x1="370.5" y1="22.0" x2="370.5" y2="606.3"/>
<line x1="420.5" y1="22.0" x2="420.5" y2="606.3"/>
<line x1="471.5" y1="22.0" x2="471.5" y2="606.3"/>
<line x1="522.5" y1="22.0" x2="522.5" y2="606.3"/>
<line x1="572.5" y1="22.0" x2="572.5" y2="606.3"/>
<line x1="623.5" y1="22.0" x2="623.5" y2="606.3"/>
<line x1="673.5" y1="22.0" x2="673.5" y2="606.3"/>
<line x1="724.5" y1="22.0" x2="724.5" y2="606.3"/>
<line x1="36.0" y1="76.5" x2="775.5" y2="76.5"/>
<line x1="36.0" y1="142.5" x2="775.5" y2="142.5"/>
<line x1="36.0" y1="209.5" x2="775.5" y2="209.5"/>
<line x1="36.0" y1="275.5" x2="775.5" y2="275.5"/>
<line x1="36.0" y1="340.5" x2="775.5" y2="340.5"/>
<line x1="36.0" y1="404.5" x2="775.5" y2="404.5"/>
<line x1="36.0" y1="468.5" x2="775.5" y2="468.5"/>
<line x1="36.0" y1="531.5" x2="775.5" y2="531.5"/>
<line x1="36.0" y1="594.5" x2="775.5" y2="594.5"/>
</g>
<g font-family="'Liberation Sans',sans-serif" font-size="10.6px" text-anchor="middle">
<g transform="translate(224.0,67.7) rotate(48)"><rect x="-4.6" y="-4.7" width="9.1" height="9.4" fill="#fff"/><text x="0" y="3.8">2</text></g>
<g transform="translate(195.0,93.3) rotate(50)"><rect x="-12.0" y="-4.7" width="23.9" height="9.4" fill="#fff"/><text x="0" y="3.8">2.25</text></g>
<g transform="translate(364.3,188.7) rotate(-5)"><rect x="-4.6" y="-4.7" width="9.1" height="9.4" fill="#fff"/><text x="0" y="3.8">2</text></g>
<g transform="translate(323.3,226.7) rotate(30)"><rect x="-12.0" y="-4.7" width="23.9" height="9.4" fill="#fff"/><text x="0" y="3.8">2.25</text></g>
<g transform="translate(467.3,207.5) rotate(-77)"><rect x="-12.0" y="-4.7" width="23.9" height="9.4" fill="#fff"/><text x="0" y="3.8">2.25</text></g>
<g transform="translate(494.3,141.0) rotate(72)"><rect x="-9.0" y="-4.7" width="18.0" height="9.4" fill="#fff"/><text x="0" y="3.8">2.5</text></g>
<g transform="translate(532.0,103.3) rotate(80)"><rect x="-12.0" y="-4.7" width="23.9" height="9.4" fill="#fff"/><text x="0" y="3.8">2.75</text></g>
<g transform="translate(577.7,69.3) rotate(90)"><rect x="-4.6" y="-4.7" width="9.1" height="9.4" fill="#fff"/><text x="0" y="3.8">3</text></g>
<g transform="translate(643.1,181.1) rotate(75)"><rect x="-12.0" y="-4.7" width="23.9" height="9.4" fill="#fff"/><text x="0" y="3.8">3.25</text></g>
<g transform="translate(739.3,85.7) rotate(-28)"><rect x="-9.0" y="-4.7" width="18.0" height="9.4" fill="#fff"/><text x="0" y="3.8">3.5</text></g>
<g transform="translate(593.3,281.0) rotate(58)"><rect x="-12.0" y="-4.7" width="23.9" height="9.4" fill="#fff"/><text x="0" y="3.8">2.75</text></g>
<g transform="translate(624.3,250.0) rotate(50)"><rect x="-4.6" y="-4.7" width="9.1" height="9.4" fill="#fff"/><text x="0" y="3.8">3</text></g>
<g transform="translate(555.0,321.0) rotate(75)"><rect x="-9.0" y="-4.7" width="18.0" height="9.4" fill="#fff"/><text x="0" y="3.8">2.5</text></g>
<g transform="translate(637.7,457.7) rotate(-80)"><rect x="-12.0" y="-4.7" width="23.9" height="9.4" fill="#fff"/><text x="0" y="3.8">2.75</text></g>
<g transform="translate(276.4,309.0) rotate(42)"><rect x="-12.0" y="-4.7" width="23.9" height="9.4" fill="#fff"/><text x="0" y="3.8">2.25</text></g>
<g transform="translate(211.0,293.0) rotate(25)"><rect x="-4.6" y="-4.7" width="9.1" height="9.4" fill="#fff"/><text x="0" y="3.8">2</text></g>
<g transform="translate(215.0,391.6) rotate(-30)"><rect x="-9.0" y="-4.7" width="18.0" height="9.4" fill="#fff"/><text x="0" y="3.8">1.5</text></g>
</g>
</g>
<g font-family="'Liberation Sans',sans-serif" font-size="10.6px" text-anchor="middle">
<g transform="translate(184.6,286.9) rotate(60)"><rect x="-6.0" y="-4.7" width="12.0" height="9.4" fill="#fff"/><text x="0" y="3.8">75</text></g>
<g transform="translate(182.2,425.5) rotate(90)"><rect x="-8.5" y="-4.7" width="17.0" height="9.4" fill="#fff"/><text x="0" y="3.8">.25</text></g>
<g transform="translate(268.5,424.0) rotate(80)"><rect x="-4.0" y="-4.7" width="8.0" height="9.4" fill="#fff"/><text x="0" y="3.8">1.</text></g>
</g>
<g opacity="1"><line x1="49.3" y1="71.4" x2="51.9" y2="78.4" stroke="#FF0000" stroke-width="1.5"/><path fill="#FF0000" d="M53.0,81.5L49.5,79.3L54.2,77.6Z"/></g>
<g opacity="1"><line x1="133.8" y1="53.3" x2="135.3" y2="60.7" stroke="#FF0000" stroke-width="1.5"/><path fill="#FF0000" d="M135.9,63.9L132.8,61.1L137.7,60.2Z"/></g>
<g opacity="1"><line x1="302.3" y1="53.0" x2="302.3" y2="60.5" stroke="#FF0000" stroke-width="1.5"/><path fill="#FF0000" d="M302.3,63.8L299.8,60.5L304.8,60.5Z"/></g>
<g opacity="1"><line x1="506.0" y1="53.3" x2="499.5" y2="57.5" stroke="#FF0000" stroke-width="1.5"/><path fill="#FF0000" d="M496.7,59.3L498.1,55.4L500.8,59.6Z"/></g>
<g opacity="1"><line x1="193.0" y1="336.2" x2="200.0" y2="338.9" stroke="#FF0000" stroke-width="1.5"/><path fill="#FF0000" d="M203.1,340.0L199.1,341.2L200.9,336.5Z"/></g>
<g opacity="1"><line x1="404.0" y1="336.5" x2="404.0" y2="344.0" stroke="#FF0000" stroke-width="1.5"/><path fill="#FF0000" d="M404.0,347.3L401.5,344.0L406.5,344.0Z"/></g>
<g opacity="1"><line x1="455.0" y1="336.5" x2="456.4" y2="343.9" stroke="#FF0000" stroke-width="1.5"/><path fill="#FF0000" d="M457.0,347.1L453.9,344.3L458.8,343.4Z"/></g>
<g opacity="1"><line x1="606.0" y1="336.5" x2="603.8" y2="343.7" stroke="#FF0000" stroke-width="1.5"/><path fill="#FF0000" d="M602.9,346.8L601.5,343.0L606.2,344.4Z"/></g>
<g opacity="1"><line x1="673.7" y1="589.4" x2="673.7" y2="596.9" stroke="#FF0000" stroke-width="1.5"/><path fill="#FF0000" d="M673.7,600.2L671.2,596.9L676.2,596.9Z"/></g>
<g opacity="1"><line x1="725.0" y1="589.4" x2="725.0" y2="596.9" stroke="#FF0000" stroke-width="1.5"/><path fill="#FF0000" d="M725.0,600.2L722.5,596.9L727.5,596.9Z"/></g>
<g opacity="0.6"><line x1="707.3" y1="54.3" x2="701.3" y2="58.8" stroke="#E00000" stroke-width="1.5"/><path fill="#E00000" d="M698.7,60.8L699.8,56.8L702.8,60.8Z"/></g>
<path fill="#FF0000" d="M84.5,114.7L85.6,117.8L88.9,117.9L86.3,119.9L87.2,123.0L84.5,121.1L81.8,123.0L82.7,119.9L80.1,117.9L83.4,117.8Z"/>
<path fill="#FF0000" d="M690.3,549.3L691.4,552.4L694.7,552.5L692.1,554.5L693.0,557.6L690.3,555.8L687.6,557.6L688.5,554.5L685.9,552.5L689.2,552.4Z"/>
<g font-family="'Liberation Sans',sans-serif" font-weight="bold" font-style="italic" font-size="10.5px" fill="#FF0000" stroke="#FF0000" stroke-width="0.3">
<text x="36.3" y="145.8" textLength="70" lengthAdjust="spacingAndGlyphs">м.Ванкарем</text>
<text x="649.7" y="560.5" font-size="10.9px" textLength="34" lengthAdjust="spacingAndGlyphs">Уэлен</text>
</g>
<rect x="36.0" y="22.0" width="739.5" height="584.3" fill="none" stroke="#000" stroke-opacity="0.36" stroke-width="2"/>
<rect x="36" y="519.2" width="222.4" height="87.1" fill="#fff"/>
<path d="M36,519.2H258.4V606.3" fill="none" stroke="#000" stroke-opacity="0.42" stroke-width="1.4"/>
<g font-family="'Liberation Sans',sans-serif" text-anchor="middle" fill="#111">
<text x="136.8" y="539.6" font-size="12.4px" textLength="166" lengthAdjust="spacingAndGlyphs">Прогноз высоты волн (м) –</text>
<text x="137" y="548" font-size="12px">051ч.</text>
<text x="137.2" y="573.7" font-size="13.2px" textLength="144.3" lengthAdjust="spacingAndGlyphs">на 20251023 03:00 ВСВ</text>
<text x="137" y="597.7" font-size="10px" textLength="112" lengthAdjust="spacingAndGlyphs">от 20251021 00:00 ВСВ</text>
</g>
<rect x="408.1" y="502.6" width="7.9" height="94" fill="url(#cb)" stroke="#333" stroke-width="0.5"/>
<g font-family="'Liberation Sans',sans-serif" font-size="8.8px" fill="#000">
<text x="418.9" y="505.9">4</text>
<text x="418.9" y="529.4">3</text>
<text x="418.9" y="552.9">2</text>
<text x="418.9" y="576.4">1</text>
<text x="418.9" y="599.9">0</text>
</g>
<g>
<rect x="50.3" y="249.6" width="52.7" height="54.8" fill="#fff"/>
<clipPath id="dm"><path d="M76.4,250.2L102,276.6L76,303.8L51.3,276.2Z"/></clipPath>
<g clip-path="url(#dm)">
<rect x="84.0" y="265.8" width="22" height="2.2" fill="#0A0A96"/>
<rect x="86.0" y="270.0" width="22" height="2.2" fill="#0A0A96"/>
<rect x="87.0" y="274.3" width="22" height="2.6" fill="#0A0A96"/>
<rect x="48" y="276.9" width="18.5" height="2.6" fill="#0A0A96"/>
<rect x="48" y="281.1" width="18.5" height="2.1" fill="#0A0A96"/>
<rect x="48" y="285.3" width="21.5" height="2.1" fill="#0A0A96"/>
<rect x="48" y="289.0" width="24.0" height="1.7" fill="#0A0A96"/>
</g>
<path fill="none" stroke="#0A0A96" stroke-width="1.15" stroke-linejoin="miter" d="M76.4,250.4L101.8,276.6L76,303.6L51.5,276.2Z"/>
<circle cx="76.8" cy="276.6" r="11.8" fill="#fff"/>
<circle cx="76.8" cy="276.9" r="11.4" fill="#0A0A96"/>
<clipPath id="gl"><circle cx="76.8" cy="276.9" r="11.9"/></clipPath>
<g fill="none" stroke="#fff" stroke-width="1.9" stroke-linecap="round" clip-path="url(#gl)">
<path d="M63,272.6C68,268.0 72,268.0 76.8,270.0S85,272.6 91,267.4"/>
<path d="M63,277.2C68,272.6 72,272.6 76.8,274.6S85,277.2 91,272.0"/>
<path d="M63,281.8C68,277.2 72,277.2 76.8,279.2S85,281.8 91,276.6"/>
<path d="M63,286.4C68,281.8 72,281.8 76.8,283.8S85,286.4 91,281.2"/>
</g>
<rect x="58.5" y="291.8" width="35.5" height="6.3" fill="#fff"/>
<text x="76.3" y="297" font-family="'Liberation Sans',sans-serif" font-weight="bold" font-style="italic" font-size="6.1px" stroke="#0A0A96" stroke-width="0.25" fill="#0A0A96" text-anchor="middle" textLength="30.5" lengthAdjust="spacingAndGlyphs">ДВНИГМИ</text>
</g>
<g font-family="'Liberation Sans',sans-serif" font-size="9px" fill="#000">
<text x="66.8" y="18.1" text-anchor="middle">184° 00'</text>
<text x="66.8" y="616.6" text-anchor="middle">184° 00'</text>
<text x="116.8" y="18.1" text-anchor="middle">184° 30'</text>
<text x="116.8" y="616.6" text-anchor="middle">184° 30'</text>
<text x="167.8" y="18.1" text-anchor="middle">185° 00'</text>
<text x="167.8" y="616.6" text-anchor="middle">185° 00'</text>
<text x="218.8" y="18.1" text-anchor="middle">185° 30'</text>
<text x="218.8" y="616.6" text-anchor="middle">185° 30'</text>
<text x="268.8" y="18.1" text-anchor="middle">186° 00'</text>
<text x="268.8" y="616.6" text-anchor="middle">186° 00'</text>
<text x="319.8" y="18.1" text-anchor="middle">186° 30'</text>
<text x="319.8" y="616.6" text-anchor="middle">186° 30'</text>
<text x="370.8" y="18.1" text-anchor="middle">187° 00'</text>
<text x="370.8" y="616.6" text-anchor="middle">187° 00'</text>
<text x="420.8" y="18.1" text-anchor="middle">187° 30'</text>
<text x="420.8" y="616.6" text-anchor="middle">187° 30'</text>
<text x="471.8" y="18.1" text-anchor="middle">188° 00'</text>
<text x="471.8" y="616.6" text-anchor="middle">188° 00'</text>
<text x="522.8" y="18.1" text-anchor="middle">188° 30'</text>
<text x="522.8" y="616.6" text-anchor="middle">188° 30'</text>
<text x="572.8" y="18.1" text-anchor="middle">189° 00'</text>
<text x="572.8" y="616.6" text-anchor="middle">189° 00'</text>
<text x="623.8" y="18.1" text-anchor="middle">189° 30'</text>
<text x="623.8" y="616.6" text-anchor="middle">189° 30'</text>
<text x="673.8" y="18.1" text-anchor="middle">190° 00'</text>
<text x="673.8" y="616.6" text-anchor="middle">190° 00'</text>
<text x="724.8" y="18.1" text-anchor="middle">190° 30'</text>
<text x="724.8" y="616.6" text-anchor="middle">190° 30'</text>
<text x="775.8" y="18.1" text-anchor="middle">191° 00'</text>
<text x="775.8" y="616.6" text-anchor="middle">191° 00'</text>
<text x="32.6" y="79.5" text-anchor="end">68° 00'</text>
<text x="779.5" y="79.5">68° 00'</text>
<text x="32.6" y="212.5" text-anchor="end">67° 30'</text>
<text x="779.5" y="212.5">67° 30'</text>
<text x="32.6" y="343.5" text-anchor="end">67° 00'</text>
<text x="779.5" y="343.5">67° 00'</text>
<text x="32.6" y="471.5" text-anchor="end">66° 30'</text>
<text x="779.5" y="471.5">66° 30'</text>
<text x="32.6" y="597.5" text-anchor="end">66° 00'</text>
<text x="779.5" y="597.5">66° 00'</text>
</g>
<text x="401.4" y="628.2" font-family="'Liberation Sans',sans-serif" font-weight="bold" font-size="6.4px" fill="#111" text-anchor="middle" textLength="221" lengthAdjust="spacingAndGlyphs">© 2021 Авторские технологии группы ДПП ФГБУ ДВНИГМИ</text>
</svg>
</body></html>
